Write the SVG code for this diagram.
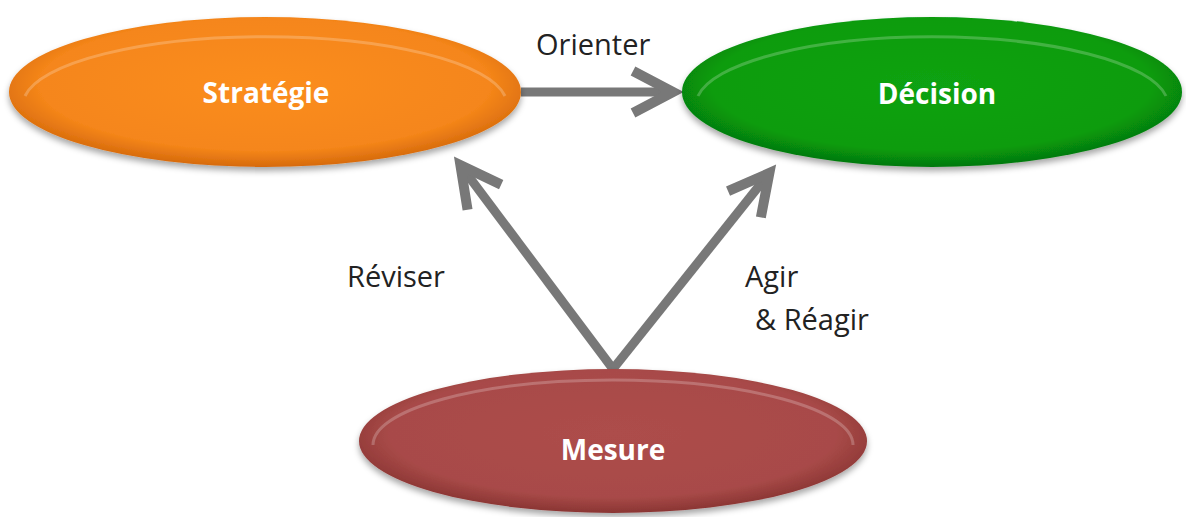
<svg xmlns="http://www.w3.org/2000/svg" width="1186" height="517" viewBox="0 0 1186 517">
<style>
.node-label{font-family:"Open Sans","Liberation Sans",sans-serif;font-weight:bold;font-size:28px;fill:#ffffff;text-anchor:middle}
.edge-label{font-family:"Open Sans","Liberation Sans",sans-serif;font-size:29px;fill:#222222}
.conn{stroke:#787878;stroke-width:9;fill:none}
.hl{fill:none;stroke:#ffffff;stroke-opacity:0.22;stroke-width:3}
</style>
<defs>
<radialGradient id="gOrange" cx="0.5" cy="0.45" r="0.55">
<stop offset="0" stop-color="#fb8d1f"/>
<stop offset="0.8" stop-color="#f5861a"/>
<stop offset="1" stop-color="#d66a0c"/>
</radialGradient>
<radialGradient id="gGreen" cx="0.5" cy="0.45" r="0.55">
<stop offset="0" stop-color="#0ba212"/>
<stop offset="0.8" stop-color="#089c0e"/>
<stop offset="1" stop-color="#05780a"/>
</radialGradient>
<radialGradient id="gRed" cx="0.5" cy="0.45" r="0.55">
<stop offset="0" stop-color="#ad4d4b"/>
<stop offset="0.8" stop-color="#a84a48"/>
<stop offset="1" stop-color="#8a3533"/>
</radialGradient>
<filter id="shadow" x="-10%" y="-20%" width="120%" height="150%">
<feDropShadow dx="0" dy="4" stdDeviation="3" flood-color="#000000" flood-opacity="0.35"/>
</filter>
<marker id="arrow" markerUnits="userSpaceOnUse" orient="auto" refX="0" refY="0" markerWidth="60" markerHeight="60" viewBox="-50 -30 60 60" overflow="visible">
<path d="M-40,-21 L0,0 L-40,21" stroke="#787878" stroke-width="10" fill="none" stroke-linejoin="miter"/>
</marker>
</defs>
<rect width="1186" height="517" fill="#ffffff"/>
<g id="connectors">
<line class="conn" x1="521" y1="92" x2="673" y2="92" marker-end="url(#arrow)"/>
<line class="conn" x1="613" y1="369" x2="460.4" y2="165.2" marker-end="url(#arrow)"/>
<line class="conn" x1="613" y1="369" x2="769.4" y2="173" marker-end="url(#arrow)"/>
<text class="edge-label" x="536" y="55">Orienter</text>
<text class="edge-label" x="347" y="287">Réviser</text>
<text class="edge-label" x="745" y="287">Agir</text>
<text class="edge-label" x="755" y="330">&amp; Réagir</text>
</g>
<g id="strategie">
<ellipse cx="265" cy="92" rx="256" ry="75" fill="url(#gOrange)" filter="url(#shadow)"/>
<path class="hl" d="M25,96 A242,68 0 0 1 505,96"/>
<text class="node-label" x="266" y="103">Stratégie</text>
</g>
<g id="decision">
<ellipse cx="932" cy="92" rx="250" ry="75" fill="url(#gGreen)" filter="url(#shadow)"/>
<path class="hl" d="M698,96 A236,68 0 0 1 1166,96"/>
<text class="node-label" x="937" y="104">Décision</text>
</g>
<g id="mesure">
<ellipse cx="613" cy="441" rx="254" ry="72" fill="url(#gRed)" filter="url(#shadow)"/>
<path class="hl" d="M373,445 A240,65 0 0 1 853,445"/>
<text class="node-label" x="613" y="460">Mesure</text>
</g>
</svg>
